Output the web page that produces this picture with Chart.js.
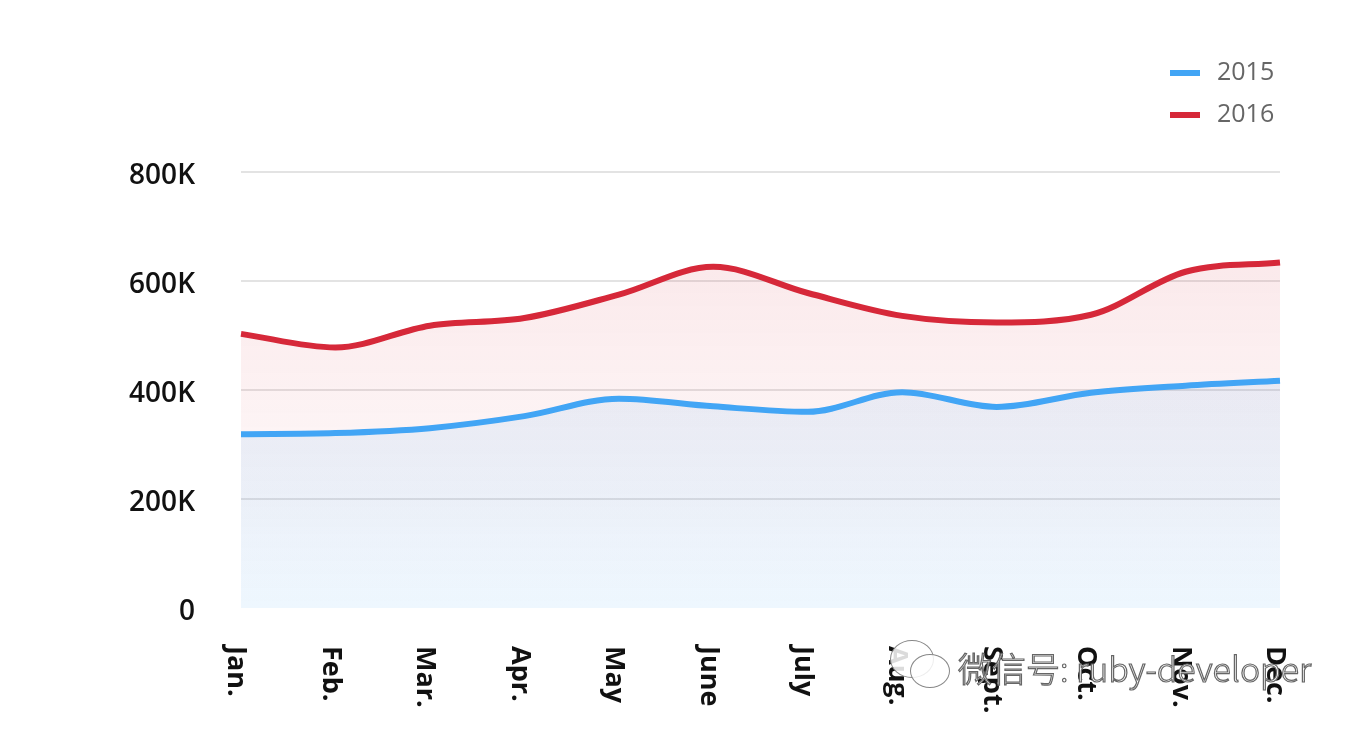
<!DOCTYPE html>
<html>
<head>
<meta charset="utf-8">
<script src="https://cdn.jsdelivr.net/npm/chart.js@4.4.1/dist/chart.umd.min.js"></script>
<style>
  html, body { margin: 0; padding: 0; background: #fff; }
  #wrap { position: relative; width: 1350px; height: 734px; overflow: hidden; }
  #watermark {
    position: absolute; left: 888px; top: 640px; height: 56px;
    font-family: "Noto Sans CJK SC", "Noto Sans", sans-serif; font-weight: 300;
    font-size: 34px; line-height: 56px; white-space: nowrap;
    color: #fff; -webkit-text-stroke: 1.2px #666; padding-left: 70px;
  }
  .bubble { position: absolute; border: 1.5px solid #888; border-radius: 50%; background: rgba(255,255,255,0.85); }
  .b1 { left: 2px; top: 0px; width: 42px; height: 36px; }
  .b2 { left: 22px; top: 14px; width: 38px; height: 32px; }
</style>
</head>
<body>
<div id="wrap">
  <canvas id="salesChart" width="1350" height="734"></canvas>
  <div id="watermark"><div class="bubble b1"></div><div class="bubble b2"></div>微信号: ruby-developer</div>
</div>
<script>
// Data (values in K)
const months = ['Jan.', 'Feb.', 'Mar.', 'Apr.', 'May', 'June', 'July', 'Aug.', 'Sept.', 'Oct.', 'Nov.', 'Dec.'];
const sales2015 = [319, 321, 330, 352, 384, 370, 360, 396, 369, 395, 408, 417];
const sales2016 = [503, 478, 518, 532, 575, 626, 578, 536, 524, 538, 617, 634];
const seriesNames = ['2015', '2016'];
const yTicks = [0, 200, 400, 600, 800];

const blue = '#42a5f5';
const red = '#d62839';

// Fill gradients
function redFill(context) {
    const { ctx, chartArea, scales } = context.chart;
    if (!chartArea) return null;
    const g = ctx.createLinearGradient(0, scales.y.getPixelForValue(640), 0, scales.y.getPixelForValue(0));
    g.addColorStop(0, 'rgba(214, 40, 57, 0.10)');
    g.addColorStop(1, 'rgba(214, 40, 57, 0.0)');
    return g;
}

function blueFill(context) {
    const { ctx, chartArea, scales } = context.chart;
    if (!chartArea) return null;
    const g = ctx.createLinearGradient(0, scales.y.getPixelForValue(420), 0, scales.y.getPixelForValue(0));
    g.addColorStop(0, 'rgba(66, 165, 245, 0.10)');
    g.addColorStop(1, 'rgba(66, 165, 245, 0.09)');
    return g;
}

// Rotated month labels (read top to bottom)
const monthLabels = {
    id: 'monthLabels',
    afterDraw(chart) {
        const { ctx, scales: { x } } = chart;
        ctx.save();
        ctx.font = '700 27px "Open Sans"';
        ctx.fillStyle = '#111';
        ctx.textAlign = 'left';
        ctx.textBaseline = 'middle';
        chart.data.labels.forEach((label, i) => {
            const px = x.getPixelForTick(i);
            ctx.save();
            ctx.translate(px - 5, 646);
            ctx.rotate(Math.PI / 2);
            ctx.fillText(label, 0, 0);
            ctx.restore();
        });
        ctx.restore();
    }
};

// Stacked legend top right
const stackedLegend = {
    id: 'stackedLegend',
    afterDraw(chart) {
        const { ctx } = chart;
        ctx.save();
        ctx.font = '400 25px "Open Sans"';
        ctx.textAlign = 'left';
        ctx.textBaseline = 'middle';
        chart.data.datasets.forEach((ds, i) => {
            const y = 73 + i * 42;
            ctx.fillStyle = ds.borderColor;
            ctx.fillRect(1170, y - 3, 30, 6);
            ctx.fillStyle = '#666';
            ctx.fillText(ds.label, 1217, y);
        });
        ctx.restore();
    }
};

const salesChart = new Chart(document.getElementById('salesChart').getContext('2d'), {
    type: 'line',
    data: {
        labels: months,
        datasets: [{
            label: seriesNames[0],
            data: sales2015,
            borderColor: blue,
            backgroundColor: blueFill,
            borderWidth: 6,
            fill: 'origin',
            pointRadius: 0,
            cubicInterpolationMode: 'monotone',
        }, {
            label: seriesNames[1],
            data: sales2016,
            borderColor: red,
            backgroundColor: redFill,
            borderWidth: 6,
            fill: 'origin',
            pointRadius: 0,
            cubicInterpolationMode: 'monotone',
        }],
    },
    options: {
        responsive: false,
        animation: false,
        layout: { padding: { top: 172, right: 70, bottom: 126, left: 0 } },
        plugins: {
            legend: { display: false },
            tooltip: { enabled: false },
        },
        scales: {
            x: {
                grid: { display: false, drawTicks: false },
                border: { display: false },
                ticks: { display: false },
            },
            y: {
                min: yTicks[0],
                max: yTicks[yTicks.length - 1],
                afterBuildTicks: (scale) => { scale.ticks = yTicks.map(v => ({ value: v })); },
                afterFit: (scale) => { scale.width = 241; },
                grid: {
                    drawTicks: false,
                    lineWidth: 2,
                    color: (c) => c.tick && c.tick.value === 0 ? 'rgba(0,0,0,0)' : '#e3e3e3',
                },
                border: { display: false },
                ticks: {
                    padding: 46,
                    labelOffset: 4,
                    color: '#111',
                    font: { family: 'Open Sans', size: 28, weight: '600' },
                    callback: (v) => v === 0 ? '0' : v + 'K',
                },
            },
        },
    },
    plugins: [monthLabels, stackedLegend],
});
</script>
</body>
</html>
